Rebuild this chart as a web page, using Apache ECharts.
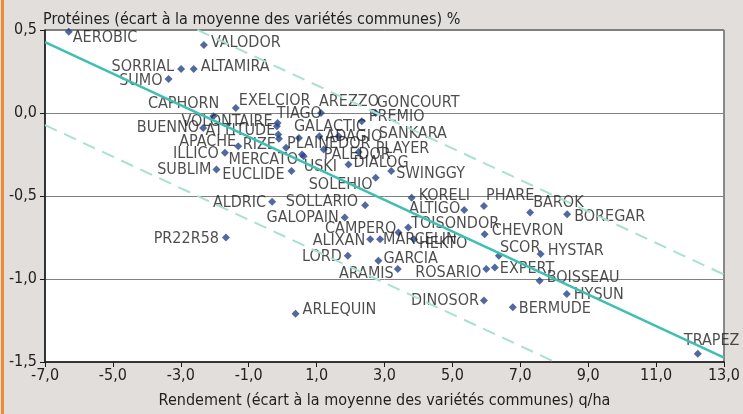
<!DOCTYPE html>
<html>
<head>
<meta charset="utf-8">
<script src="https://cdn.jsdelivr.net/npm/echarts@6/dist/echarts.min.js"></script>
<style>
  html, body { margin: 0; padding: 0; background: #e2dedb; }
  #main { position: absolute; left: 0; top: 0; width: 743px; height: 414px; }
  #strip { position: absolute; left: 1px; top: 0; width: 3px; height: 414px; background: #ef8a34; }
</style>
</head>
<body>
<div id="main"></div>
<div id="strip"></div>
<script>
  // variétés, rendement (q/ha) et protéines (%) en écart à la moyenne
  var names = ['AEROBIC', 'VALODOR', 'SORRIAL', 'ALTAMIRA', 'SUMO', 'CAPHORN', 'EXELCIOR', 'AREZZO', 'GONCOURT', 'PREMIO',
    'VOLONTAIRE', 'TIAGO', 'GALACTIC', 'BUENNO', 'ATTITUDE', 'ADAGIO', 'SANKARA', 'APACHE', 'RIZE', 'PLAINEDOR',
    'PALEDOR', 'PLAYER', 'ILLICO', 'MERCATO', 'USKI', 'DIALOG', 'SUBLIM', 'EUCLIDE', 'SOLEHIO', 'SWINGGY',
    'KORELI', 'PHARE', 'BAROK', 'BOREGAR', 'ALDRIC', 'SOLLARIO', 'ALTIGO', 'GALOPAIN', 'TOISONDOR', 'CHEVRON',
    'CAMPERO', 'PR22R58', 'MARCELIN', 'ALIXAN', 'HEKTO', 'SCOR', 'HYSTAR', 'LORD', 'GARCIA', 'EXPERT',
    'ROSARIO', 'ARAMIS', 'BOISSEAU', 'HYSUN', 'DINOSOR', 'BERMUDE', 'ARLEQUIN', 'TRAPEZ'];
  var rendement = [-6.30, -2.32, -2.99, -2.62, -3.36, -2.04, -1.38, 1.13, 2.74, 2.33,
    -0.15, -0.17, 0.48, -2.34, -0.13, 1.08, 1.65, -1.31, -0.11, 0.10,
    1.21, 2.24, -1.70, 0.57, 0.62, 1.94, -1.95, 0.26, 2.74, 3.20,
    3.80, 5.93, 7.29, 8.38, -0.31, 2.43, 5.35, 1.83, 3.70, 5.95,
    3.41, -1.67, 2.87, 2.58, 3.87, 6.37, 7.60, 1.92, 2.82, 6.25,
    6.00, 3.39, 7.57, 8.37, 5.93, 6.78, 0.38, 12.23];
  var proteines = [0.49, 0.41, 0.265, 0.265, 0.205, -0.02, 0.03, 0.00, 0.00, -0.05,
    -0.06, -0.08, -0.15, -0.09, -0.13, -0.14, -0.14, -0.20, -0.155, -0.21,
    -0.22, -0.235, -0.24, -0.25, -0.26, -0.31, -0.34, -0.35, -0.39, -0.35,
    -0.51, -0.56, -0.60, -0.61, -0.535, -0.555, -0.585, -0.63, -0.69, -0.73,
    -0.72, -0.75, -0.76, -0.76, -0.76, -0.86, -0.85, -0.86, -0.89, -0.93,
    -0.94, -0.94, -1.01, -1.09, -1.13, -1.17, -1.21, -1.45];

  // droite de tendance (extrémités lues) et écart des droites en pointillés
  var trendX = [-7, 13];
  var trendY = [0.427, -1.473];
  var bandGap = 0.5;

  // placement des étiquettes : [alignement, dx, dy] en px depuis le point
  var labelPlace = [['l', 4, 6], ['l', 7, -2], ['r', -7, -2], ['l', 7, -2], ['r', -6, 2], ['r', 6, -12], ['l', 3, -7], ['l', -2, -11], ['l', 1, -10], ['l', 7, -4],
    ['r', -5, -1], ['l', 0, -12], ['l', -5, -11], ['r', -4, 0], ['r', -3, -4], ['l', 6, 1], ['l', 40, -2], ['r', -2, -4], ['r', -3, 6], ['l', 1, -4],
    ['l', 0, 5], ['l', 17, -3], ['r', -6, 1], ['r', -4, 5], ['l', 0, 11], ['l', 5, -2], ['r', -5, 0], ['r', -7, 4], ['r', -3, 7], ['l', 5, 3],
    ['l', 7, -2], ['l', 2, -10], ['l', 3, -10], ['l', 7, 3], ['r', -6, 1], ['r', -7, -3], ['r', -4, -1], ['r', -6, 0], ['l', 3, -4], ['l', 7, -3],
    ['r', -2, -4], ['r', -7, 1], ['l', 3, 1], ['r', -5, 2], ['l', 5, 5], ['l', 1, -8], ['l', 7, -3], ['r', -6, 1], ['l', 5, -2], ['l', 5, 1],
    ['r', -5, 4], ['r', -4, 5], ['l', 7, -3], ['l', 7, 1], ['r', -5, 0], ['l', 6, 2], ['l', 7, -4], ['l', -14, -13]];

  var font = "'Liberation Sans Narrow', 'Arial Narrow', 'DejaVu Sans Condensed', sans-serif";
  var textColor = '#1f1f1f';
  var symSize = 8;

  var points = [];
  for (var i = 0; i < names.length; i++) {
    var p = labelPlace[i];
    points.push({
      name: names[i],
      value: [rendement[i], proteines[i]],
      label: {
        position: [symSize / 2 + p[1], symSize / 2 + p[2]],
        align: p[0] === 'l' ? 'left' : 'right',
        verticalAlign: 'middle'
      }
    });
  }

  function lineAt(shift) {
    return [[trendX[0], trendY[0] + shift], [trendX[1], trendY[1] + shift]];
  }

  function fr(v) {
    return v.toFixed(1).replace('.', ',');
  }

  var chart = echarts.init(document.getElementById('main'));
  chart.setOption({
    backgroundColor: 'transparent',
    animation: false,
    title: {
      text: 'Protéines (écart à la moyenne des variétés communes) %',
      left: 38,
      top: 7,
      textStyle: {color: textColor, fontSize: 16, fontWeight: 'normal', fontFamily: font}
    },
    grid: {
      left: 45, right: 16, top: 30, bottom: 48,
      show: true,
      backgroundColor: '#ffffff',
      borderColor: '#222',
      borderWidth: 1
    },
    xAxis: {
      type: 'value',
      min: -7, max: 13, interval: 2,
      name: 'Rendement (écart à la moyenne des variétés communes) q/ha',
      nameLocation: 'middle',
      nameGap: 31,
      nameTextStyle: {color: textColor, fontSize: 16, fontFamily: font},
      axisLine: {onZero: false, lineStyle: {color: '#1a1a1a', width: 1.5}},
      axisTick: {show: true, length: 5, lineStyle: {color: '#1a1a1a'}},
      axisLabel: {color: textColor, fontSize: 16, fontFamily: font, margin: 6, formatter: fr},
      splitLine: {show: false}
    },
    yAxis: {
      type: 'value',
      min: -1.5, max: 0.5, interval: 0.5,
      axisLine: {show: true, onZero: false, lineStyle: {color: '#1a1a1a', width: 1.5}},
      axisTick: {show: true, length: 5, lineStyle: {color: '#1a1a1a'}},
      axisLabel: {color: textColor, fontSize: 16, fontFamily: font, margin: 8, formatter: fr},
      splitLine: {show: true, lineStyle: {color: '#808080', width: 1}}
    },
    series: [
      {
        type: 'line', data: lineAt(bandGap), symbol: 'none', silent: true, clip: true,
        lineStyle: {color: '#a7e1d4', width: 2, type: [13, 8]}
      },
      {
        type: 'line', data: lineAt(-bandGap), symbol: 'none', silent: true, clip: true,
        lineStyle: {color: '#a7e1d4', width: 2, type: [13, 8]}
      },
      {
        type: 'line', data: lineAt(0), symbol: 'none', silent: true, clip: true,
        lineStyle: {color: '#3fbfb2', width: 2.5}
      },
      {
        type: 'scatter',
        symbol: 'diamond',
        symbolSize: symSize,
        itemStyle: {color: '#26448a'},
        label: {
          show: true,
          formatter: '{b}',
          color: textColor,
          fontSize: 16,
          fontFamily: font
        },
        data: points
      }
    ]
  });
</script>
</body>
</html>
